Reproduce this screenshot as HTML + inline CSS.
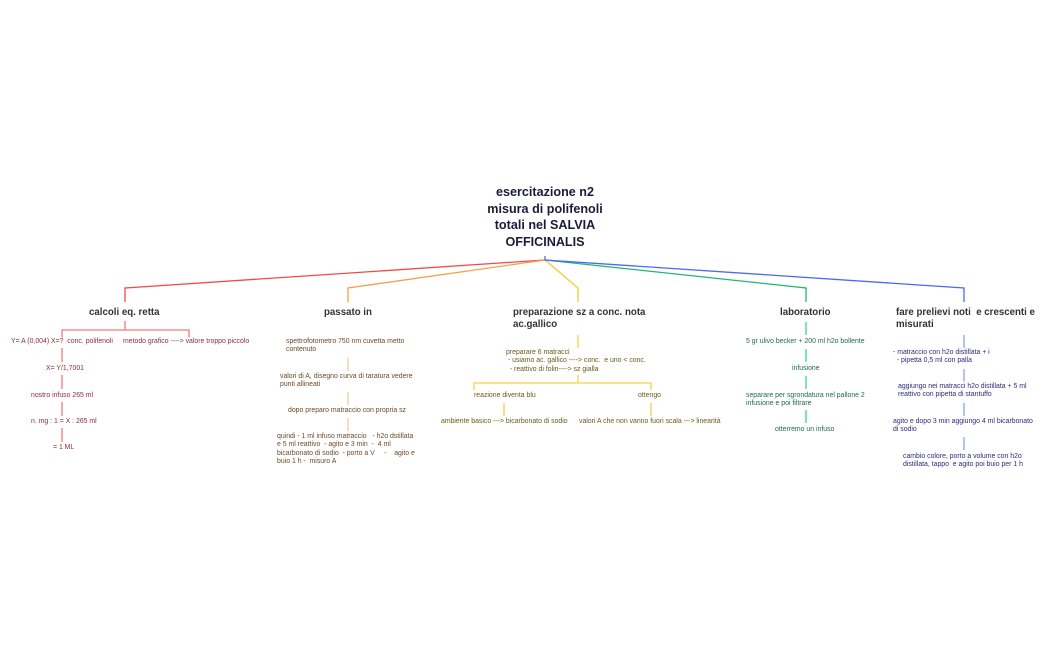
<!DOCTYPE html>
<html><head><meta charset="utf-8"><style>
body{margin:0;width:1050px;height:650px;background:#fff;position:relative;overflow:hidden;font-family:"Liberation Sans",sans-serif}
.t{position:absolute;font-size:6.9px;line-height:8.4px;white-space:pre}
.h{position:absolute;font-size:9.7px;line-height:12px;color:#333;font-weight:bold;white-space:pre}
.r{color:#8b2f3c}.o{color:#6b4a2a}.y{color:#6b5a1a}.g{color:#1f6b4a}.b{color:#2c2c7c}
svg{position:absolute;left:0;top:0}
</style></head><body>
<svg width="1050" height="650" fill="none" stroke-width="1.3">
<g stroke="#f04a45"><polyline points="545,260 125,288 125,302"/></g>
<g stroke="#f5a04a"><polyline points="545,260 348,288 348,302"/></g>
<g stroke="#f5cc2a"><polyline points="545,260 578,288 578,302"/></g>
<g stroke="#1fb874"><polyline points="545,260 806,288 806,302"/></g>
<g stroke="#4a6af5"><polyline points="545,256 545,260 964,288 964,302"/></g>
<g stroke="#f07a7a"><line x1="125" y1="321" x2="125" y2="330"/><polyline points="62,337 62,330 189,330 189,337"/>
<line x1="62" y1="348" x2="62" y2="362"/><line x1="62" y1="375" x2="62" y2="389"/><line x1="62" y1="402" x2="62" y2="416"/><line x1="62" y1="428" x2="62" y2="442"/></g>
<g stroke="#f8c896"><line x1="348" y1="358" x2="348" y2="371"/><line x1="348" y1="392" x2="348" y2="405"/><line x1="348" y1="418" x2="348" y2="431"/></g>
<g stroke="#f5d142"><line x1="578" y1="335" x2="578" y2="348"/><line x1="578" y1="375" x2="578" y2="383"/><polyline points="474,390 474,383 651,383 651,390"/><line x1="504" y1="403" x2="504" y2="416"/><line x1="651" y1="403" x2="651" y2="416"/></g>
<g stroke="#3dd68c"><line x1="806" y1="322" x2="806" y2="335"/><line x1="806" y1="349" x2="806" y2="362"/><line x1="806" y1="376" x2="806" y2="389"/><line x1="806" y1="410" x2="806" y2="423"/></g>
<g stroke="#8aa0ff"><line x1="964" y1="335" x2="964" y2="348"/><line x1="964" y1="369" x2="964" y2="381"/><line x1="964" y1="403" x2="964" y2="416"/><line x1="964" y1="437" x2="964" y2="450"/></g>
</svg>
<div class="h" style="left:445px;top:184px;width:200px;text-align:center;font-size:12.6px;line-height:16.5px;color:#1b1b3a">esercitazione n2
misura di polifenoli
totali nel SALVIA
OFFICINALIS</div>
<div class="h" style="left:89px;top:307px">calcoli eq. retta</div>
<div class="h" style="left:324px;top:307px">passato in</div>
<div class="h" style="left:513px;top:307px">preparazione sz a conc. nota
ac.gallico</div>
<div class="h" style="left:780px;top:307px">laboratorio</div>
<div class="h" style="left:896px;top:307px">fare prelievi noti  e crescenti e
misurati</div>

<div class="t r" style="left:11px;top:338px">Y= A (0,004) X=?  conc. polifenoli</div>
<div class="t r" style="left:123px;top:338px">metodo grafico ----&gt; valore troppo piccolo</div>
<div class="t r" style="left:46px;top:365px">X= Y/1,7001</div>
<div class="t r" style="left:31px;top:392px">nostro infuso 265 ml</div>
<div class="t r" style="left:31px;top:418px">n. mg : 1 = X : 265 ml</div>
<div class="t r" style="left:53px;top:444px">= 1 ML</div>

<div class="t o" style="left:286px;top:338px">spettrofotometro 750 nm cuvetta metto
contenuto</div>
<div class="t o" style="left:280px;top:373px">valori di A, disegno curva di taratura vedere
punti allineati</div>
<div class="t o" style="left:288px;top:407px">dopo preparo matraccio con propria sz</div>
<div class="t o" style="left:277px;top:433px">quindi - 1 ml infuso matraccio   - h2o dstillata
e 5 ml reattivo  - agito e 3 min  -  4 ml
bicarbonato di sodio  - porto a V     -    agito e
buio 1 h -  misuro A</div>

<div class="t y" style="left:506px;top:349px">preparare 6 matracci
 - usiamo ac. gallico ----&gt; conc.  e uno &lt; conc.
  - reattivo di folin----&gt; sz gialla</div>
<div class="t y" style="left:474px;top:392px">reazione diventa blu</div>
<div class="t y" style="left:638px;top:392px">ottengo</div>
<div class="t y" style="left:441px;top:418px">ambiente basico ---&gt; bicarbonato di sodio</div>
<div class="t y" style="left:579px;top:418px">valori A che non vanno fuori scala ---&gt; linearità</div>

<div class="t g" style="left:746px;top:338px">5 gr ulivo becker + 200 ml h2o bollente</div>
<div class="t g" style="left:792px;top:365px">infusione</div>
<div class="t g" style="left:746px;top:392px">separare per sgrondatura nel pallone 2
infusione e poi filtrare</div>
<div class="t g" style="left:775px;top:426px">otterremo un infuso</div>

<div class="t b" style="left:893px;top:349px">- matraccio con h2o distillata + i
  - pipetta 0,5 ml con palla</div>
<div class="t b" style="left:898px;top:383px">aggiungo nei matracci h2o distillata + 5 ml
reattivo con pipetta di stantuffo</div>
<div class="t b" style="left:893px;top:418px">agito e dopo 3 min aggiungo 4 ml bicarbonato
di sodio</div>
<div class="t b" style="left:903px;top:453px">cambio colore, porto a volume con h2o
distillata, tappo  e agito poi buio per 1 h</div>
</body></html>
